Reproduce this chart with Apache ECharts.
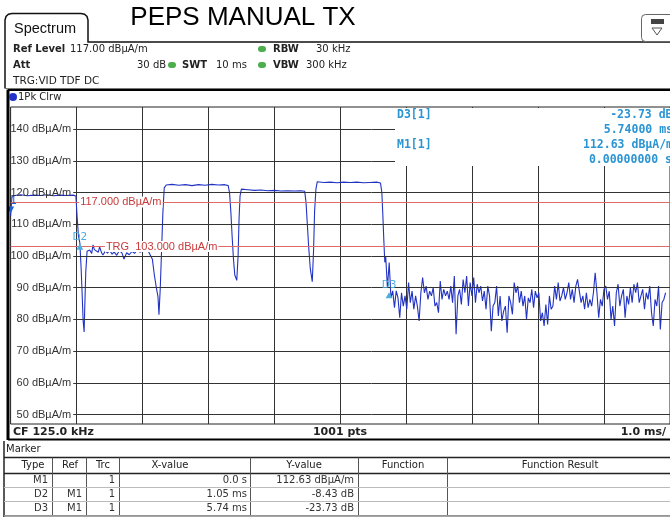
<!DOCTYPE html>
<html>
<head>
<meta charset="utf-8">
<title>PEPS MANUAL TX</title>
<script src="https://cdn.jsdelivr.net/npm/echarts@6.0.0/dist/echarts.min.js"></script>
<style>
  html, body { margin: 0; padding: 0; background: #fff; }
  #chart { width: 670px; height: 519px; }
</style>
</head>
<body>
<div id="chart"></div>
<script>
// trace 1 (1Pk Clrw): [time ms, level dBµA/m] for the burst part
const pulseTrace = [
  [0.00, 112.6], [0.02, 118.6], [0.06, 119.1], [0.15, 119.3], [0.25, 119.0], [0.35, 119.2],
  [0.45, 119.1], [0.55, 119.3], [0.65, 119.0], [0.75, 119.2], [0.85, 119.1], [0.95, 119.2],
  [0.99, 118.9], [1.01, 112.0], [1.03, 106.0], [1.05, 104.2], [1.07, 96.0], [1.085, 88.0],
  [1.10, 79.5], [1.115, 76.0], [1.125, 84.0], [1.14, 95.0], [1.16, 101.5],
  [1.20, 101.9], [1.23, 100.8], [1.25, 103.5], [1.27, 102.0], [1.30, 102.6], [1.33, 101.2],
  [1.35, 102.9], [1.38, 101.0], [1.40, 100.3], [1.44, 101.6], [1.47, 100.9], [1.50, 101.8],
  [1.54, 100.6], [1.57, 101.3], [1.61, 100.2], [1.65, 101.7], [1.69, 100.9], [1.72, 99.0],
  [1.76, 101.0], [1.80, 100.4], [1.84, 101.5], [1.88, 100.8], [1.92, 101.9], [1.96, 101.2],
  [2.00, 101.6], [2.05, 102.0], [2.09, 101.4], [2.12, 101.9],
  [2.15, 99.0], [2.18, 94.0], [2.21, 90.0], [2.235, 87.2], [2.25, 81.5], [2.27, 90.0],
  [2.29, 102.0], [2.31, 114.0], [2.33, 121.5], [2.36, 122.4],
  [2.45, 122.6], [2.55, 122.3], [2.65, 122.5], [2.75, 122.2], [2.85, 122.5], [2.95, 122.3],
  [3.05, 122.6], [3.15, 122.4], [3.25, 122.5], [3.30, 122.2],
  [3.32, 120.0], [3.34, 114.0], [3.36, 106.0], [3.38, 99.0], [3.40, 94.0], [3.43, 92.3],
  [3.45, 100.0], [3.465, 112.0], [3.48, 119.0], [3.50, 121.1],
  [3.60, 120.9], [3.70, 120.7], [3.80, 120.8], [3.90, 120.6], [4.00, 120.7], [4.10, 120.5],
  [4.20, 120.6], [4.30, 120.5], [4.40, 120.6], [4.46, 120.4],
  [4.48, 117.0], [4.50, 110.0], [4.52, 103.0], [4.545, 96.0], [4.575, 91.9], [4.595, 102.0],
  [4.61, 114.0], [4.63, 121.0], [4.65, 123.4],
  [4.75, 123.2], [4.85, 123.3], [4.95, 123.1], [5.05, 123.3], [5.15, 123.2], [5.25, 123.3],
  [5.35, 123.1], [5.45, 123.2], [5.55, 123.3], [5.61, 123.0],
  [5.63, 120.0], [5.645, 113.0], [5.66, 105.0], [5.675, 98.0]
]

// noise floor after the last burst, one value per sample step
const noiseStart = 5.688
const noiseStep = 0.0267
const noiseLevels = [
  100.0, 90.0, 97.9, 86.8, 89.0, 83.7, 89.0, 86.8, 80.5, 88.4, 84.2, 87.4, 83.2, 91.6,
  85.3, 88.9, 83.2, 87.4, 84.2, 79.5, 88.4, 93.2, 88.4, 90.5,
  86.3, 88.9, 87.4, 90.0, 84.2, 85.3, 82.1, 92.1, 86.3, 89.5,
  87.4, 88.9, 86.3, 90.5, 85.3, 93.7, 75.3, 87.4, 89.5, 84.7,
  92.6, 88.4, 93.7, 84.2, 91.6, 87.4, 93.2, 85.3, 91.1, 88.4,
  90.5, 85.8, 88.9, 83.2, 90.5, 87.4, 76.3, 84.2, 85.3, 90.5,
  81.1, 87.4, 79.5, 82.6, 84.2, 75.8, 87.4, 85.3, 81.6, 91.6,
  88.4, 90.5, 85.3, 88.9, 84.2, 87.4, 80.0, 86.8, 85.3, 89.5,
  83.7, 88.9, 86.8, 88.4, 79.5, 82.1, 77.9, 84.7, 78.4, 87.4,
  83.2, 84.2, 90.5, 86.3, 91.6, 85.8, 87.4, 90.0, 86.3, 88.4,
  91.6, 86.3, 89.5, 85.3, 90.5, 92.6, 88.9, 85.3, 87.4, 83.2,
  88.4, 83.7, 86.3, 84.2, 88.4, 94.7, 88.4, 80.5, 86.3, 84.2,
  89.5, 90.5, 86.3, 88.9, 80.0, 84.2, 77.9, 88.4, 91.1, 84.2,
  87.4, 89.5, 80.5, 87.4, 84.7, 90.0, 85.3, 91.1, 88.4, 91.6,
  85.3, 87.4, 89.5, 83.2, 88.4, 86.3, 90.5, 82.1, 77.9, 86.3,
  84.2, 90.5, 76.8, 85.3, 86.3, 88.4
]

const yTicks = [50, 60, 70, 80, 90, 100, 110, 120, 130, 140]
const limitValues = [117, 103]
const limitNames = ['117.000 dBµA/m', 'TRG  103.000 dBµA/m']
const limitLabelAt = [1.04, 1.43]

// markers
const markerTypes = ['M1', 'D2', 'D3']
const markerRefs = ['', 'M1', 'M1']
const markerTrc = ['1', '1', '1']
const markerX = ['0.0 s', '1.05 ms', '5.74 ms']
const markerY = ['112.63 dBµA/m', '-8.43 dB', '-23.73 dB']
const markerTimes = [0, 1.05, 5.74]
const markerLevels = [112.63, 104.2, 88.9]

const trace = pulseTrace.concat(noiseLevels.map((v, i) => [noiseStart + i * noiseStep, v]))

const UI = '"DejaVu Sans", sans-serif'
const MONO = '"DejaVu Sans Mono", monospace'
const SANS = '"Liberation Sans", Arial, sans-serif'

function txt(x, y, s, o = {}) {
  const align = o.align || 'left'
  return {
    type: 'text', z: o.z || 30, silent: true,
    style: {
      x, y, text: s,
      fill: o.color || '#222',
      font: `${o.weight || 'normal'} ${o.size || 10}px ${o.family || UI}`,
      textAlign: align, align: align,
      textVerticalAlign: 'middle', verticalAlign: 'middle'
    }
  }
}
function ln(x1, y1, x2, y2, color = '#000', w = 1, z = 25) {
  return { type: 'line', z, silent: true, shape: { x1, y1, x2, y2 }, style: { stroke: color, lineWidth: w } }
}
function dot(cx, cy, color) {
  return { type: 'rect', z: 26, silent: true, shape: { x: cx - 4, y: cy - 3, width: 8, height: 6, r: 3 }, style: { fill: color } }
}

const infoBlue = { family: MONO, weight: 'bold', size: 11.5, color: '#2b95d3' }

const graphics = [
  // title + tab
  txt(243, 18, 'PEPS MANUAL TX', { align: 'center', size: 26, family: SANS, color: '#000' }),
  { type: 'polyline', z: 25, silent: true,
    shape: { points: [[5, 42], [5, 20], [6, 16.5], [8.5, 14.3], [12, 13.5], [81, 13.5], [84.5, 14.3], [87, 16.5], [88, 20], [88, 42], [672, 42]] },
    style: { stroke: '#111', lineWidth: 1.5, fill: null } },
  txt(14, 29, 'Spectrum', { size: 14.5, family: SANS, color: '#111' }),
  { type: 'rect', z: 25, silent: true, shape: { x: 641.5, y: 14.5, width: 34, height: 27, r: 4 }, style: { stroke: '#666', fill: '#fff', lineWidth: 1 } },
  { type: 'rect', z: 26, silent: true, shape: { x: 651, y: 19, width: 13, height: 5 }, style: { fill: '#444' } },
  { type: 'polygon', z: 26, silent: true, shape: { points: [[652, 28], [662, 28], [657, 35]] }, style: { stroke: '#555', fill: '#fff' } },

  // setting lines
  txt(13, 49, 'Ref Level', { weight: 'bold' }),
  txt(70, 49, '117.00 dBµA/m'),
  dot(262, 49, '#4cae4c'),
  txt(273, 49, 'RBW', { weight: 'bold' }),
  txt(316, 49, '30 kHz'),
  txt(13, 65, 'Att', { weight: 'bold' }),
  txt(137, 65, '30 dB'),
  dot(172, 65, '#4cae4c'),
  txt(182, 65, 'SWT', { weight: 'bold' }),
  txt(216, 65, '10 ms'),
  dot(262, 65, '#4cae4c'),
  txt(273, 65, 'VBW', { weight: 'bold' }),
  txt(306, 65, '300 kHz'),
  txt(13, 81, 'TRG:VID TDF DC', { size: 10.5 }),
  ln(5, 42, 5, 88.5, '#111', 1.5),
  ln(5, 88.5, 672, 88.5, '#777', 1),

  // diagram frame
  ln(8, 89.5, 8, 440, '#000', 3),
  ln(8, 90, 672, 90, '#000', 2),
  { type: 'circle', z: 26, silent: true, shape: { cx: 13, cy: 97, r: 4 }, style: { fill: '#2233cc' } },
  txt(18, 97, '1Pk Clrw'),
  txt(13, 432, 'CF 125.0 kHz', { weight: 'bold', size: 11 }),
  txt(340, 432, '1001 pts', { weight: 'bold', size: 11, align: 'center' }),
  txt(666, 432, '1.0 ms/', { weight: 'bold', size: 11, align: 'right' }),
  ln(8, 439.5, 672, 439.5, '#000', 2),

  // marker info box over the upper right of the grid
  { type: 'rect', z: 20, silent: true, shape: { x: 395, y: 108, width: 290, height: 58 }, style: { fill: '#fff' } },
  txt(397, 115, 'D3[1]', infoBlue),
  txt(672.5, 115, markerY[2], { ...infoBlue, align: 'right' }),
  txt(673, 130, '5.74000 ms', { ...infoBlue, align: 'right' }),
  txt(397, 145, 'M1[1]', infoBlue),
  txt(673, 145, markerY[0], { ...infoBlue, align: 'right' }),
  txt(672, 160, '0.00000000 s', { ...infoBlue, align: 'right' }),

  // marker table
  txt(6, 449, 'Marker'),
  ln(4, 441, 4, 517, '#222', 1.5)
]

const tableTop = 457.5, headBottom = 473.5, rowH = 14
const colSeps = [52.5, 86.5, 119.5, 250.5, 358.5, 447.5]
const headers = [['Type', 33], ['Ref', 70], ['Trc', 103], ['X-value', 170], ['Y-value', 304], ['Function', 403], ['Function Result', 560]]
graphics.push(ln(4, tableTop, 672, tableTop, '#222', 1.5))
graphics.push(ln(4, headBottom, 672, headBottom, '#222', 1.5))
headers.forEach(([h, cx]) => graphics.push(txt(cx, 465.5, h, { align: 'center' })))
colSeps.forEach(x => graphics.push(ln(x, tableTop, x, headBottom + rowH * 3, '#555', 1)))
markerTypes.forEach((m, i) => {
  const y = headBottom + rowH * i + 7
  graphics.push(txt(48, y, m, { align: 'right', color: '#333' }))
  graphics.push(txt(82, y, markerRefs[i], { align: 'right', color: '#333' }))
  graphics.push(txt(115, y, markerTrc[i], { align: 'right', color: '#333' }))
  graphics.push(txt(247, y, markerX[i], { align: 'right', color: '#333' }))
  graphics.push(txt(354, y, markerY[i], { align: 'right', color: '#333' }))
  graphics.push(ln(4, headBottom + rowH * (i + 1), 672, headBottom + rowH * (i + 1), '#bbb', 1))
})
graphics.push(ln(4, 516, 672, 516, '#888', 1.5))

const markerLabel = { fontFamily: UI, fontSize: 10.5 }

const option = {
  animation: false,
  backgroundColor: '#fff',
  grid: { left: 10.6, right: -5, top: 107, bottom: 95, show: true, borderColor: '#222', borderWidth: 1 },
  xAxis: {
    type: 'value', min: 0, max: 10, interval: 1,
    axisLine: { show: false }, axisTick: { show: false }, axisLabel: { show: false },
    splitLine: { show: true, lineStyle: { color: '#333', width: 1 } }
  },
  yAxis: {
    type: 'value', min: 47, max: 147,
    axisLine: { show: false }, axisTick: { show: false }, axisLabel: { show: false },
    splitLine: { show: false }
  },
  graphic: { elements: graphics },
  series: [
    {
      name: 'grid', type: 'line', data: [], z: 1, silent: true,
      markLine: {
        silent: true, symbol: ['none', 'none'], animation: false,
        lineStyle: { color: '#333', type: 'solid', width: 1 },
        label: { show: true, position: 'start', distance: 2, formatter: '{b}', color: '#333', fontFamily: SANS, fontSize: 11 },
        data: yTicks.map(v => [{ name: v + ' dBµA/m', coord: [0.95, v] }, { coord: [10, v] }])
      }
    },
    {
      name: 'limits', type: 'line', data: [], z: 2, silent: true,
      markLine: {
        silent: true, symbol: ['none', 'none'], animation: false,
        lineStyle: { color: '#e06a6a', type: 'solid', width: 1 },
        label: { show: false },
        data: limitValues.map(v => ({ yAxis: v }))
      },
      markPoint: {
        silent: true, animation: false, symbol: 'rect', symbolSize: 0,
        label: {
          show: true, position: 'right', distance: 0, color: '#c83a3a', fontFamily: SANS, fontSize: 11,
          backgroundColor: '#fff', padding: [0, 1], formatter: '{b}'
        },
        data: limitValues.map((v, i) => ({ name: limitNames[i], coord: [limitLabelAt[i], v] }))
      }
    },
    {
      name: '1Pk Clrw', type: 'line', data: trace, z: 3,
      showSymbol: false, symbol: 'none',
      lineStyle: { color: '#2233c4', width: 1.1 },
      markPoint: {
        silent: true, animation: false,
        data: markerTimes.map((t, i) => i === 0
          ? { coord: [t, markerLevels[i]], symbol: 'triangle', symbolRotate: 180, symbolSize: [7, 7], symbolOffset: [0, -6],
              itemStyle: { color: '#1f63d6' },
              label: { show: true, formatter: '1', position: 'top', distance: 0, offset: [3, 0], color: '#1f63d6', ...markerLabel } }
          : { coord: [t, markerLevels[i]], symbol: 'triangle', symbolSize: [7, 6], symbolOffset: [0, 4],
              itemStyle: { color: '#4aaee0' },
              label: { show: true, formatter: markerTypes[i], position: 'top', distance: 1, color: '#4aaee0', ...markerLabel } })
      }
    }
  ]
}

const chart = echarts.init(document.getElementById('chart'))
chart.setOption(option)
</script>
</body>
</html>
